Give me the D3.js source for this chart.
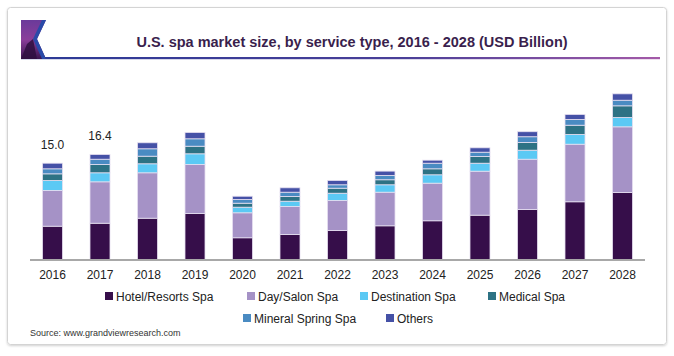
<!DOCTYPE html>
<html>
<head>
<meta charset="utf-8">
<script src="https://cdn.jsdelivr.net/npm/d3@7/dist/d3.min.js"></script>
<style>
html,body{margin:0;padding:0;background:#fff;}
svg{display:block;font-family:"Liberation Sans",Arial,sans-serif;}
</style>
</head>
<body>
<svg id="chart" width="674" height="356"></svg>
<script>
const years = ["2016","2017","2018","2019","2020","2021","2022","2023","2024","2025","2026","2027","2028"];
const seriesNames = ["Hotel/Resorts Spa","Day/Salon Spa","Destination Spa","Medical Spa","Mineral Spring Spa","Others"];
const hotel       = [5.25,5.71,6.49,7.22,3.45,3.96,4.58,5.31,6.09,6.96,7.84,9.04,10.48];
const daySalon    = [5.54,6.43,7.05,7.61,3.88,4.35,4.66,5.22,5.84,6.83,7.81,8.94,10.20];
const destination = [1.55,1.40,1.40,1.66,0.87,0.82,1.13,1.15,1.30,1.24,1.40,1.51,1.44];
const medical     = [1.04,1.29,1.18,1.18,0.62,0.73,0.78,0.78,0.93,1.04,1.20,1.44,1.82];
const mineral     = [0.78,0.82,1.15,1.15,0.57,0.67,0.53,0.67,0.87,0.67,0.89,0.89,0.87];
const others      = [0.87,0.73,0.93,0.98,0.51,0.68,0.67,0.67,0.47,0.68,0.78,0.78,0.99];
const valueLabels = [{year:"2016", text:"15.0"},{year:"2017", text:"16.4"}];
const colors = ["#360e4a","#a592c6","#5bc9f4","#2d7284","#4a8bc2","#4551a6"];

const seriesArrays = [hotel, daySalon, destination, medical, mineral, others];
const table = years.map((y,i)=>{
  const o = {year:y};
  seriesNames.forEach((s,j)=>o[s]=seriesArrays[j][i]);
  return o;
});

const svg = d3.select("#chart");
const defs = svg.append("defs");

// frame
const sh = defs.append("filter").attr("id","sh").attr("x","-5%").attr("y","-5%").attr("width","110%").attr("height","110%");
sh.append("feDropShadow").attr("dx",0).attr("dy",1).attr("stdDeviation",1.2).attr("flood-color","#000").attr("flood-opacity",0.18);
svg.append("rect").attr("x",7.5).attr("y",7.5).attr("width",659).attr("height",337).attr("rx",3)
  .attr("fill","#fff").attr("stroke","#d4d4d4").attr("filter","url(#sh)");

// header line gradient
const lg = defs.append("linearGradient").attr("id","hl").attr("x1","0%").attr("x2","100%");
lg.append("stop").attr("offset","0%").attr("stop-color","#2b3a96");
lg.append("stop").attr("offset","60%").attr("stop-color","#4a3f98");
lg.append("stop").attr("offset","100%").attr("stop-color","#a45aa8");
svg.append("rect").attr("x",21).attr("y",57).attr("width",639).attr("height",2.2).attr("fill","url(#hl)");

// logo
const lgo = defs.append("linearGradient").attr("id","lgo").attr("x1","0%").attr("y1","0%").attr("x2","0%").attr("y2","100%");
lgo.append("stop").attr("offset","0%").attr("stop-color","#6a3a9a");
lgo.append("stop").attr("offset","50%").attr("stop-color","#8a3e9a");
lgo.append("stop").attr("offset","100%").attr("stop-color","#3a1550");
svg.append("path").attr("d","M21,20 L46,20 L37,39 L46,59 L21,59 Z").attr("fill","url(#lgo)");
svg.append("path").attr("d","M46,20 L37,39 L46,59 L42,59 L33,39 L42,20 Z").attr("fill","#2a4aa8");
svg.append("path").attr("d","M21,59 L27,44 L33,39 L37,59 Z").attr("fill","#2e0f40").attr("opacity",0.85);

// title
svg.append("text").attr("x",352).attr("y",47).attr("text-anchor","middle")
  .attr("font-size",14.5).attr("font-weight","bold").attr("fill","#3a1f4d")
  .text("U.S. spa market size, by service type, 2016 - 2028 (USD Billion)");

// scales
const x = d3.scaleBand().domain(years).range([28.75,646.25]).paddingInner(0.579).paddingOuter(0.2895);
const y = d3.scaleLinear().domain([0,30]).range([260,260-30*6.44]);

const stack = d3.stack().keys(seriesNames)(table);
svg.append("g").selectAll("g").data(stack).join("g")
  .attr("fill",(d,i)=>colors[i])
  .selectAll("rect").data(d=>d).join("rect")
  .attr("x",d=>x(d.data.year))
  .attr("width",x.bandwidth())
  .attr("y",d=>y(d[1]))
  .attr("height",d=>y(d[0])-y(d[1]))
  .attr("stroke","#e6dff0").attr("stroke-width",0.8);

// axis
const xAxis = d3.axisBottom(x).tickSize(0).tickPadding(10);
const ax = svg.append("g").attr("transform","translate(0,260)").call(xAxis);
ax.select(".domain").attr("stroke","#a8a8a8").attr("stroke-width",2).attr("d","M30,0H645");
ax.selectAll("text").attr("font-size",12).attr("fill","#222").attr("font-family","Liberation Sans, Arial, sans-serif");

// value labels
const totals = years.map((yy,i)=>seriesArrays.reduce((a,s)=>a+s[i],0));
svg.append("g").selectAll("text").data(valueLabels).join("text")
  .attr("x",d=>x(d.year)+x.bandwidth()/2)
  .attr("y",d=>y(totals[years.indexOf(d.year)])-14.5)
  .attr("text-anchor","middle").attr("font-size",12).attr("fill","#222")
  .text(d=>d.text);

// legend
const legPos = [[105,296],[247,296],[360,296],[488,296],[243,318],[386,318]];
const leg = svg.append("g").selectAll("g").data(seriesNames).join("g")
  .attr("transform",(d,i)=>`translate(${legPos[i][0]},${legPos[i][1]})`);
leg.append("rect").attr("x",0).attr("y",-4).attr("width",8).attr("height",8).attr("fill",(d,i)=>colors[i]);
leg.append("text").attr("x",11).attr("y",4.5).attr("font-size",12).attr("fill","#222").text(d=>d);

// source
svg.append("text").attr("x",30).attr("y",336).attr("font-size",9).attr("fill","#333")
  .text("Source: www.grandviewresearch.com");
</script>
</body>
</html>
